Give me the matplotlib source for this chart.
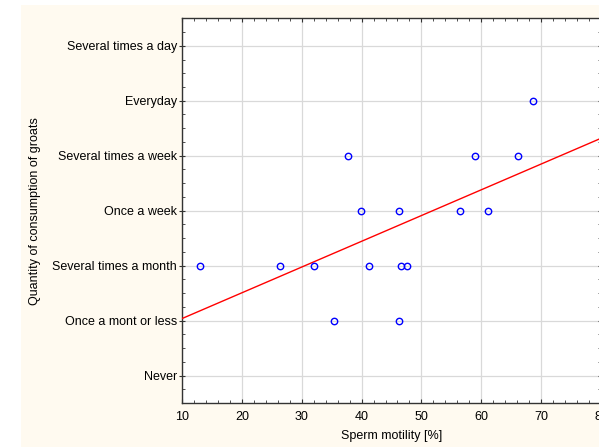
import matplotlib
matplotlib.use("Agg")
import matplotlib.pyplot as plt
import numpy as np
from matplotlib.patches import Rectangle
from matplotlib.ticker import MultipleLocator

categories = ["Never", "Once a mont or less", "Several times a month", "Once a week",
              "Several times a week", "Everyday", "Several times a day"]
motility = [37.7, 59.0, 66.2, 68.6, 39.9, 46.3, 56.4, 61.2,
            13.0, 26.3, 32.0, 41.3, 46.6, 47.6, 35.4, 46.2]
consumption = [5, 5, 5, 6, 4, 4, 4, 4, 3, 3, 3, 3, 3, 3, 2, 2]
x_ticks = [10, 20, 30, 40, 50, 60, 70, 80]

plt.rcParams['font.family'] = ['Liberation Sans', 'DejaVu Sans']

fig = plt.figure(figsize=(5.99, 4.47), dpi=100)
fig.patch.set_facecolor('white')
fig.patches.append(Rectangle((21/599, 0), 1, (447-5)/447, transform=fig.transFigure,
                             facecolor='#FFFAF0', edgecolor='none', zorder=-10))

ax = fig.add_axes([182/599, 1-403/447, 419/599, (403-18.3)/447])
ax.set_facecolor('white')

xs = np.array(motility)
ys = np.array(consumption)
slope, intercept = np.polyfit(xs, ys, 1)
xl = np.array([10, 80])
ax.plot(xl, slope*xl + intercept, color='#FF0000', lw=1, zorder=3)
ax.plot(xs, ys, 'o', mfc='none', mec='#0000FF', ms=4.6, mew=1, zorder=4)

ax.set_xlim(10, 80)
ax.set_ylim(0.5, 7.5)
ax.set_xticks(x_ticks)
ax.set_xticklabels([str(t) for t in x_ticks])
ax.set_yticks(range(1, 8))
ax.set_yticklabels(categories)
ax.xaxis.set_minor_locator(MultipleLocator(2))
ax.yaxis.set_minor_locator(MultipleLocator(0.25))
ax.tick_params(which='both', direction='in', top=True, right=True, labelsize=9, colors='#333333', labelcolor='black')
ax.tick_params(axis='y', which='major', direction='inout', length=5, pad=1)
ax.tick_params(axis='x', which='major', length=3, pad=6)
ax.tick_params(which='minor', length=2.5)
ax.grid(True, which='major', color='#D9D9D9', lw=0.9)
ax.set_axisbelow(True)
for s in ax.spines.values():
    s.set_color('#333333')
    s.set_linewidth(1)

ax.set_xlabel("Sperm motility [%]", fontsize=9, labelpad=5)
ax.set_ylabel("Quantity of consumption of groats", fontsize=9, labelpad=8)

fig.savefig("out.png", dpi=100, facecolor=fig.get_facecolor())
